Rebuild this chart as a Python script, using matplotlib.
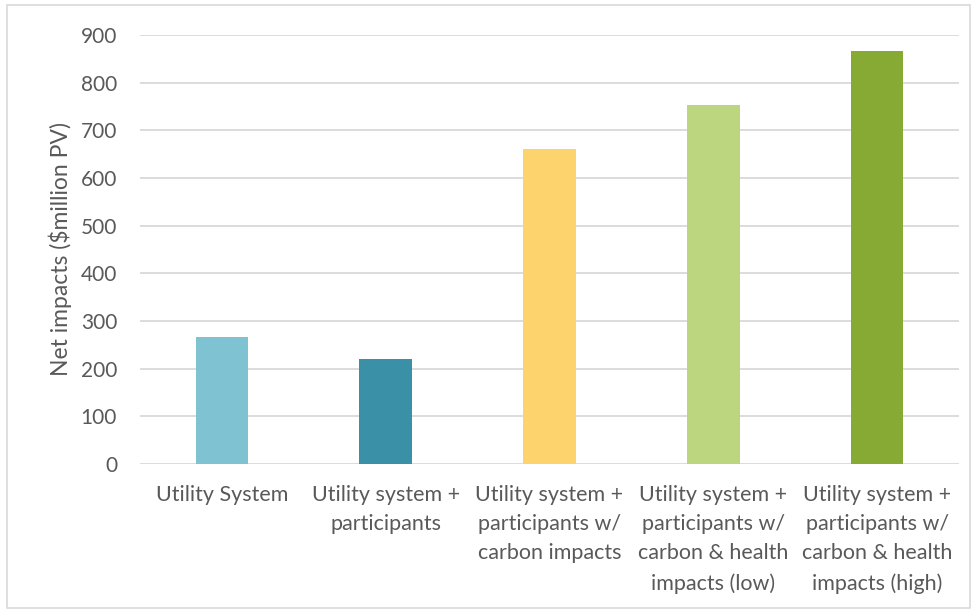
import matplotlib
matplotlib.use("Agg")
import matplotlib.pyplot as plt
from matplotlib.patches import Rectangle

categories = [
    "Utility System",
    "Utility system +\nparticipants",
    "Utility system +\nparticipants w/\ncarbon impacts",
    "Utility system +\nparticipants w/\ncarbon & health\nimpacts (low)",
    "Utility system +\nparticipants w/\ncarbon & health\nimpacts (high)",
]
values = [266, 220, 660, 753, 866]
colors = ["#7FC3D3", "#3A90A7", "#FDD36D", "#BBD67E", "#86AA34"]
yticks = [0, 100, 200, 300, 400, 500, 600, 700, 800, 900]

plt.rcParams['font.family'] = ['Lato', 'DejaVu Sans']
W, H = 977, 613
fig = plt.figure(figsize=(W/100, H/100), dpi=100)
ax = fig.add_axes([140/W, 1-464/H, (959-140)/W, (464-35)/H])

x = list(range(len(categories)))
ax.bar(x, values, width=0.32, color=colors, zorder=3)
ax.set_xlim(-0.5, len(categories)-0.5)
ax.set_ylim(0, 900)
ax.set_yticks(yticks)
ax.set_yticklabels([str(t) for t in yticks])
ax.set_xticks(x)
ax.set_xticklabels(categories, linespacing=1.58)
ax.tick_params(axis='x', length=0, labelsize=15.5, colors="#595959", pad=15)
ax.tick_params(axis='y', length=0, labelsize=15, colors="#595959", pad=16.5)
ax.grid(axis='y', color="#D9D9D9", linewidth=1.3, zorder=0)
for s in ax.spines.values():
    s.set_visible(False)
ax.set_ylabel("Net impacts ($million PV)", fontsize=16.5, color="#595959", labelpad=6)

fig.patches.append(Rectangle((7/W, 5/H), (970-7)/W, (608-5)/H, transform=fig.transFigure,
                             fill=False, edgecolor="#D9D9D9", linewidth=1.2))
fig.savefig("out.png", dpi=100)
